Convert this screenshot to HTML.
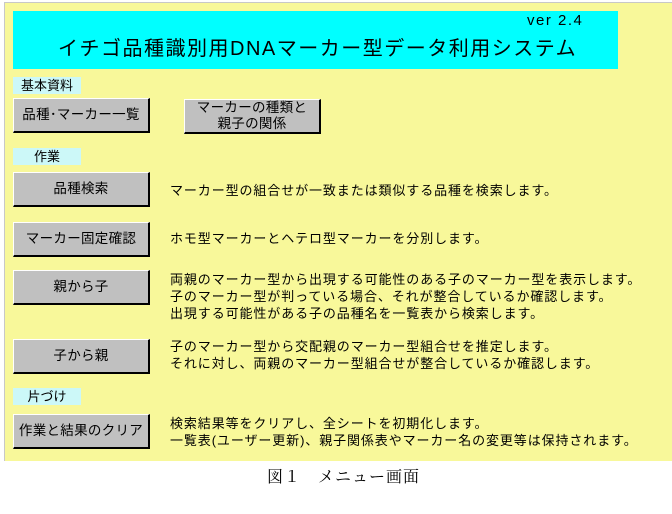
<!DOCTYPE html>
<html><head><meta charset="utf-8"><style>
body{margin:0;width:672px;height:514px;background:#fff;position:relative;overflow:hidden;font-family:"Liberation Sans","Noto Sans CJK JP",sans-serif;color:#000}
.bg{position:absolute;left:4px;top:2px;width:668px;height:458px;background:#f8f89a;border-left:1px solid #c8c8c8;border-top:1px solid #c8c8c8}
.hd{position:absolute;left:13px;top:11px;width:605px;height:58px;background:#00ffff}
.t{position:absolute;left:58px;top:32px;font-size:20px;white-space:nowrap;letter-spacing:1.5px}
.v{position:absolute;left:527px;top:12px;font-size:15px;letter-spacing:1.5px}
.lb{position:absolute;left:13px;width:68px;height:17px;background:#ccf8f8;font-size:13px;line-height:17px;text-align:center}
.b{position:absolute;left:13px;width:137px;height:33px;background:#c0c0c0;border-top:1px solid #fff;border-left:1px solid #fff;border-right:2px solid #000;border-bottom:2px solid #000;box-sizing:border-box;font-size:13.5px;display:flex;align-items:center;justify-content:center;text-align:center;line-height:16px;letter-spacing:0.3px}
.d{position:absolute;left:170px;font-size:13px;line-height:17px;white-space:nowrap;letter-spacing:0.9px}
.c{position:absolute;left:267px;top:464px;font-size:16px;letter-spacing:1px;font-family:"Liberation Serif","Noto Serif CJK SC",serif;white-space:nowrap}
</style></head><body>
<div class="bg"></div>
<div class="hd"></div>
<div class="t">イチゴ品種識別用DNAマーカー型データ利用システム</div>
<div class="v">ver 2.4</div>
<div class="lb" style="top:77px">基本資料</div>
<div class="b" style="top:98px;height:35px">品種･マーカー一覧</div>
<div class="b" style="left:184px;top:99px;height:35px">マーカーの種類と<br>親子の関係</div>
<div class="lb" style="top:148px">作業</div>
<div class="b" style="top:172px;height:35px">品種検索</div>
<div class="d" style="top:182px">マーカー型の組合せが一致または類似する品種を検索します。</div>
<div class="b" style="top:222px;height:35px">マーカー固定確認</div>
<div class="d" style="top:230px">ホモ型マーカーとヘテロ型マーカーを分別します。</div>
<div class="b" style="top:270px;height:35px">親から子</div>
<div class="d" style="top:271px">両親のマーカー型から出現する可能性のある子のマーカー型を表示します。<br>子のマーカー型が判っている場合、それが整合しているか確認します。<br>出現する可能性がある子の品種名を一覧表から検索します。</div>
<div class="b" style="top:339px;height:35px">子から親</div>
<div class="d" style="top:338px">子のマーカー型から交配親のマーカー型組合せを推定します。<br>それに対し、両親のマーカー型組合せが整合しているか確認します。</div>
<div class="lb" style="top:388px">片づけ</div>
<div class="b" style="top:414px;height:35px">作業と結果のクリア</div>
<div class="d" style="top:415px">検索結果等をクリアし、全シートを初期化します。<br>一覧表(ユーザー更新)、親子関係表やマーカー名の変更等は保持されます。</div>
<div class="c">図１　メニュー画面</div>
</body></html>
